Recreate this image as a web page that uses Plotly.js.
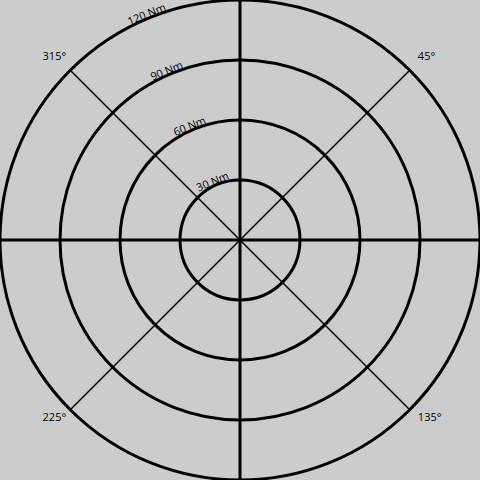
<!DOCTYPE html>
<html>
<head>
<meta charset="utf-8">
<script src="https://cdn.plot.ly/plotly-3.0.1.min.js"></script>
<style>
html,body{margin:0;padding:0;background:#cccccc;width:480px;height:480px;overflow:hidden;}
#chart{position:absolute;left:-30px;top:-30px;width:540px;height:540px;}
</style>
</head>
<body>
<div id="chart"></div>
<script>
const radialTicks = [30, 60, 90, 120];
const radialLabels = ['30 Nm', '60 Nm', '90 Nm', '120 Nm'];
const radialMax = 120;
const cardinalAngles = [0, 90, 180, 270];
const diagonalAngles = [45, 135, 225, 315];
const diagonalLabels = ['45°', '135°', '225°', '315°'];

const S = 540;
const dom = (a, b) => [a / S, b / S];

const data = ['polar', 'polar2', 'polar3', 'polar4'].map(sp => (
  {type: 'scatterpolar', r: [], theta: [], subplot: sp, showlegend: false, hoverinfo: 'skip'}
));

const hiddenRadial = {range: [0, radialMax], showgrid: false, showticklabels: false, showline: false, ticks: ''};
const fontTick = {family: 'Open Sans, sans-serif', size: 11, color: '#000'};

const layout = {
  width: S, height: S,
  margin: {l: 0, r: 0, t: 0, b: 0, pad: 0},
  paper_bgcolor: '#cccccc',
  plot_bgcolor: '#cccccc',
  font: fontTick,
  showlegend: false,
  // thick rings and cardinal spokes
  polar: {
    domain: {x: dom(30, 510), y: dom(30, 510)},
    bgcolor: '#cccccc',
    radialaxis: {
      range: [0, radialMax], tickmode: 'array', tickvals: radialTicks,
      showticklabels: false, showline: false, ticks: '',
      showgrid: true, gridcolor: '#000', gridwidth: 3
    },
    angularaxis: {
      direction: 'clockwise', rotation: 90,
      tickmode: 'array', tickvals: cardinalAngles,
      showticklabels: false, ticks: '',
      showgrid: true, gridcolor: '#000', gridwidth: 3,
      showline: true, linecolor: '#000', linewidth: 3
    }
  },
  // thin diagonal spokes
  polar2: {
    domain: {x: dom(30, 510), y: dom(30, 510)},
    bgcolor: 'rgba(0,0,0,0)',
    radialaxis: hiddenRadial,
    angularaxis: {
      direction: 'clockwise', rotation: 90,
      tickmode: 'array', tickvals: diagonalAngles,
      showticklabels: false, ticks: '',
      showgrid: true, gridcolor: '#000', gridwidth: 1.5, showline: false
    }
  },
  // radial tick labels
  polar3: {
    domain: {x: dom(9.5, 489.5), y: dom(26, 506)},
    bgcolor: 'rgba(0,0,0,0)',
    radialaxis: {
      range: [0, radialMax],
      tickmode: 'array', tickvals: radialTicks, ticktext: radialLabels,
      showline: false, ticks: '', angle: 112.5, tickangle: 90,
      showgrid: false, tickfont: fontTick
    },
    angularaxis: {
      direction: 'clockwise', rotation: 90,
      showgrid: false, showticklabels: false, showline: false, ticks: ''
    }
  },
  // angular tick labels
  polar4: {
    domain: {x: dom(32, 512), y: dom(35, 515)},
    bgcolor: 'rgba(0,0,0,0)',
    radialaxis: hiddenRadial,
    angularaxis: {
      direction: 'clockwise', rotation: 90,
      tickmode: 'array', tickvals: diagonalAngles, ticktext: diagonalLabels,
      ticks: 'outside', ticklen: 6, tickcolor: 'rgba(0,0,0,0)',
      showgrid: false, showline: false, tickfont: fontTick
    }
  }
};

Plotly.newPlot('chart', data, layout, {displayModeBar: false, staticPlot: true});
</script>
</body>
</html>
